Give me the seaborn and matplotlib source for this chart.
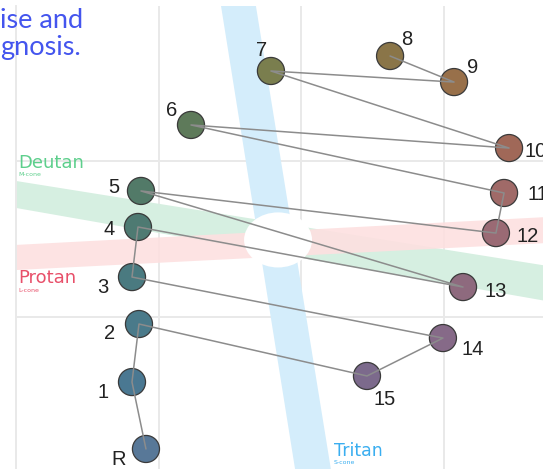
import numpy as np
import pandas as pd
import matplotlib
matplotlib.use("Agg")
import matplotlib.pyplot as plt
from matplotlib.patches import Polygon, Ellipse
import seaborn as sns

# ---- data -------------------------------------------------------------
caps = ["R", "1", "2", "3", "4", "5", "6", "7", "8", "9", "10", "11", "12", "13", "14", "15"]
cap_x = [0.912, 0.814, 0.863, 0.814, 0.856, 0.877, 1.228, 1.789, 2.625, 3.074,
         3.460, 3.425, 3.368, 3.137, 2.996, 2.463]
cap_y = [-0.846, -0.417, -0.045, 0.256, 0.577, 0.808, 1.231, 1.577, 1.673, 1.506,
         1.083, 0.795, 0.538, 0.192, -0.135, -0.378]
cap_colors = ["#587898", "#4a7892", "#4a7a8a", "#4a7a80", "#4e7a72", "#527a68",
              "#5e7a5a", "#7a7e4e", "#8a7548", "#98704a", "#a06858", "#a06a68",
              "#9a6a74", "#8e6a7e", "#866a88", "#7c6a8c"]
arrangement = ["R", "1", "2", "15", "14", "3", "4", "13", "5", "12", "11", "6", "10", "7", "9", "8"]

deutan_band_x = [0, 4, 4, 0]
deutan_band_y = [0.872, 0.288, 0.058, 0.699]
protan_band_x = [0, 4, 4, 0]
protan_band_y = [0.462, 0.654, 0.487, 0.301]
tritan_band_x = [1.432, 1.670, 2.239, 1.993]
tritan_band_y = [2.032, 2.071, -1.141, -1.173]

title_lines = ["ise and", "gnosis."]

# label offsets (pixels, layout only)
label_dx = [-27, -29, -29, -29, -29, -27, -19, -9, 17, 19, 27, 34, 32, 33, 30, 18]
label_dy = [-16, -16, -15, -16, -8, -2, 9, 15, 11, 9, -9, -7, -9, -10, -17, -29]

# ---- figure -----------------------------------------------------------
sns.set_style("white")
W, H = 543, 469
fig = plt.figure(figsize=(W / 100, H / 100), dpi=100)
ax = fig.add_axes([16 / W, 0, (W - 16) / W, (H - 6) / H])
ax.set_xlim(0, (W - 16) / 142.5)
ax.set_ylim((317 - H) / 156, (317 - 6) / 156)

# grid
for gx in [1, 2, 3]:
    ax.axvline(gx, color="#e9e9e9", lw=1.4, zorder=0)
for gy in [0, 1]:
    ax.axhline(gy, color="#e9e9e9", lw=1.4, zorder=0)
for s in ["top", "right", "bottom"]:
    ax.spines[s].set_visible(False)
ax.spines["left"].set_color("#e9e9e9")
ax.spines["left"].set_linewidth(1.4)
ax.set_xticks([])
ax.set_yticks([])
ax.set_xlabel("")
ax.set_ylabel("")

# bands
ax.add_patch(Polygon(list(zip(deutan_band_x, deutan_band_y)), closed=True,
                     facecolor="#d6efe1", edgecolor="none", zorder=1))
ax.add_patch(Polygon(list(zip(protan_band_x, protan_band_y)), closed=True,
                     facecolor="#fde0e0", edgecolor="none", alpha=0.9, zorder=1.1))
ax.add_patch(Polygon(list(zip(tritan_band_x, tritan_band_y)), closed=True,
                     facecolor="#d4edfb", edgecolor="none", zorder=1.2))
ax.add_patch(Ellipse((1.839, 0.494), 0.477, 0.353, facecolor="white",
                     edgecolor="none", zorder=1.5))

# band labels
ax.text(0.014, 0.955, "Deutan", color="#5dcf8c", fontsize=13, family="DejaVu Sans", zorder=2)
ax.text(0.014, 0.905, "M-cone", color="#5dcf8c", fontsize=4.5, family="DejaVu Sans", zorder=2)
ax.text(0.014, 0.218, "Protan", color="#e8506a", fontsize=13, family="DejaVu Sans", zorder=2)
ax.text(0.014, 0.163, "L-cone", color="#e8506a", fontsize=4.5, family="DejaVu Sans", zorder=2)
ax.text(2.232, -0.891, "Tritan", color="#3aaef0", fontsize=12.5, family="DejaVu Sans", zorder=2)
ax.text(2.232, -0.945, "S-cone", color="#3aaef0", fontsize=4.5, family="DejaVu Sans", zorder=2)

# caps
df = pd.DataFrame({"cap": caps, "x": cap_x, "y": cap_y})
palette = dict(zip(caps, cap_colors))
sns.scatterplot(data=df, x="x", y="y", hue="cap", palette=palette, s=380,
                edgecolor="#3a3a3a", linewidth=0.9, legend=False, ax=ax, zorder=3)

# path of arrangement
path = df.set_index("cap").loc[arrangement].reset_index()
path["order"] = np.arange(len(path))
sns.lineplot(data=path, x="x", y="y", sort=False, estimator=None, color="#8c8c8c",
             lw=1.1, ax=ax, zorder=4)
ax.set_xlabel("")
ax.set_ylabel("")

for c, x, y, dx, dy in zip(caps, cap_x, cap_y, label_dx, label_dy):
    ax.annotate(c, (x, y), xytext=(dx, dy), textcoords="offset pixels",
                ha="center", va="baseline", fontsize=14.5, color="#222222",
                family="Liberation Sans", zorder=5)

# cropped title text
fig.text(0, 1 - 28 / H, title_lines[0], color="#4455ee", fontsize=19.5, family="Lato",
         ha="left", va="baseline")
fig.text(0, 1 - 55 / H, title_lines[1], color="#4455ee", fontsize=19.5, family="Lato",
         ha="left", va="baseline")

fig.savefig("out.png", dpi=100)
